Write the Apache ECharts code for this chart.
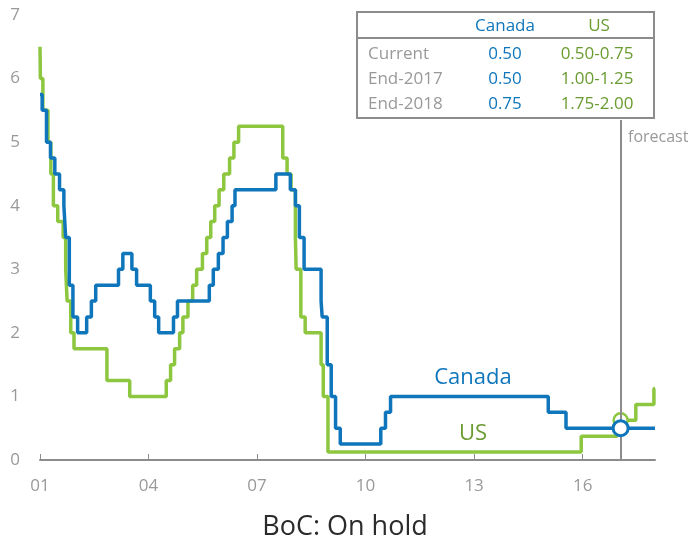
<!DOCTYPE html>
<html>
<head>
<meta charset="utf-8">
<script src="https://cdn.jsdelivr.net/npm/echarts@6/dist/echarts.min.js"></script>
<style>
  html, body { margin: 0; padding: 0; background: #fff; }
  #chart { width: 694px; height: 549px; }
</style>
</head>
<body>
<div id="chart"></div>
<script>
// policy rates, dates as decimal years
const canDates = [2001.0, 2001.06, 2001.18, 2001.29, 2001.41, 2001.54, 2001.66, 2001.71, 2001.81, 2001.91,
  2002.04, 2002.29, 2002.42, 2002.54, 2003.17, 2003.29, 2003.54, 2003.67, 2004.05, 2004.17,
  2004.28, 2004.69, 2004.80, 2005.68, 2005.79, 2005.93, 2006.06, 2006.18, 2006.31, 2006.39,
  2007.52, 2007.92, 2008.06, 2008.17, 2008.30, 2008.77, 2008.80, 2008.94, 2009.05, 2009.17,
  2009.30, 2010.42, 2010.55, 2010.69, 2015.05, 2015.54, 2018.0];
const canRates = [5.75, 5.50, 5.00, 4.75, 4.50, 4.25, 4.00, 3.50, 2.75, 2.25,
  2.00, 2.25, 2.50, 2.75, 3.00, 3.25, 3.00, 2.75, 2.50, 2.25,
  2.00, 2.25, 2.50, 2.75, 3.00, 3.25, 3.50, 3.75, 4.00, 4.25,
  4.50, 4.25, 4.00, 3.50, 3.00, 2.50, 2.25, 1.50, 1.00, 0.50,
  0.25, 0.50, 0.75, 1.00, 0.75, 0.50, 0.50];

const usDates = [2001.0, 2001.01, 2001.08, 2001.22, 2001.30, 2001.37, 2001.49, 2001.64, 2001.71, 2001.75,
  2001.85, 2001.94, 2002.85, 2003.48, 2004.49, 2004.61, 2004.72, 2004.86, 2004.95, 2005.09,
  2005.22, 2005.33, 2005.49, 2005.61, 2005.72, 2005.83, 2005.95, 2006.08, 2006.24, 2006.36,
  2006.49, 2007.71, 2007.83, 2007.94, 2008.06, 2008.08, 2008.21, 2008.33, 2008.77, 2008.83,
  2008.96, 2015.96, 2016.95, 2017.47, 2017.97, 2018.0];
const usRates = [6.50, 6.00, 5.50, 5.00, 4.50, 4.00, 3.75, 3.50, 3.00, 2.50,
  2.00, 1.75, 1.25, 1.00, 1.25, 1.50, 1.75, 2.00, 2.25, 2.50,
  2.75, 3.00, 3.25, 3.50, 3.75, 4.00, 4.25, 4.50, 4.75, 5.00,
  5.25, 4.75, 4.50, 4.25, 3.50, 3.00, 2.25, 2.00, 1.50, 1.00,
  0.125, 0.375, 0.625, 0.875, 1.125, 1.125];

const currentDate = 2017.05;
const currentCan = 0.50;
const currentUs = 0.625;
const forecastTop = 5.35;

// forecast table
const tableHeads = ['Canada', 'US'];
const tableRows = ['Current', 'End-2017', 'End-2018'];
const tableCan = ['0.50', '0.50', '0.75'];
const tableUs = ['0.50-0.75', '1.00-1.25', '1.75-2.00'];

const BLUE = '#0f76bc';
const GREEN = '#8dc63f';
const GREEN_TXT = '#6a9c31';
const GREY = '#999';
const FONT = 'Open Sans';

const zip = (xs, ys) => xs.map((x, i) => [x, ys[i]]);

const chart = echarts.init(document.getElementById('chart'));

const tableGraphics = [
  { type: 'rect', shape: { x: 357, y: 12, width: 297, height: 106 },
    style: { fill: '#fff', stroke: '#8c8c8c', lineWidth: 2 } },
  { type: 'line', shape: { x1: 357, y1: 38, x2: 654, y2: 38 },
    style: { stroke: '#8c8c8c', lineWidth: 2 } },
  { type: 'text', x: 505, y: 26, style: { text: tableHeads[0], fill: BLUE, font: '17px ' + FONT, align: 'center', verticalAlign: 'middle' } },
  { type: 'text', x: 599, y: 26, style: { text: tableHeads[1], fill: GREEN_TXT, font: '17px ' + FONT, align: 'center', verticalAlign: 'middle' } }
];
const rowY = [54, 79, 104];
tableRows.forEach((r, i) => {
  tableGraphics.push({ type: 'text', x: 368, y: rowY[i], style: { text: r, fill: GREY, font: '17px ' + FONT, align: 'left', verticalAlign: 'middle' } });
  tableGraphics.push({ type: 'text', x: 505, y: rowY[i], style: { text: tableCan[i], fill: BLUE, font: '17px ' + FONT, align: 'center', verticalAlign: 'middle' } });
  tableGraphics.push({ type: 'text', x: 597, y: rowY[i], style: { text: tableUs[i], fill: GREEN_TXT, font: '17px ' + FONT, align: 'center', verticalAlign: 'middle' } });
});

const option = {
  animation: false,
  backgroundColor: '#fff',
  textStyle: { fontFamily: FONT },
  grid: { left: 40, right: 39, top: 15, bottom: 89, containLabel: false },
  xAxis: {
    type: 'value',
    min: 2001,
    max: 2018,
    interval: 3,
    splitLine: { show: false },
    axisLine: { lineStyle: { color: '#8c8c8c', width: 2 } },
    axisTick: { inside: true, length: 6, lineStyle: { color: '#8c8c8c', width: 1 } },
    axisLabel: {
      color: GREY, fontSize: 17, margin: 18, fontFamily: FONT,
      showMaxLabel: false,
      formatter: v => (v === 2018 ? '' : String(v).slice(2))
    }
  },
  yAxis: {
    type: 'value',
    min: 0,
    max: 7,
    interval: 1,
    splitLine: { show: false },
    axisLine: { show: false },
    axisTick: { show: false },
    axisLabel: { color: GREY, fontSize: 17, margin: 20, fontFamily: FONT }
  },
  series: [
    {
      name: 'US',
      type: 'line',
      step: 'end',
      showSymbol: false,
      z: 2,
      lineStyle: { color: GREEN, width: 3.5 },
      data: zip(usDates, usRates),
      markLine: {
        silent: true,
        symbol: 'none',
        lineStyle: { color: '#8c8c8c', width: 2, type: 'solid' },
        label: { show: false },
        data: [[{ coord: [currentDate, 0] }, { coord: [currentDate, forecastTop] }]]
      }
    },
    {
      name: 'Canada',
      type: 'line',
      step: 'end',
      showSymbol: false,
      z: 3,
      lineStyle: { color: BLUE, width: 3.5 },
      data: zip(canDates, canRates)
    },
    {
      name: 'US now',
      type: 'scatter',
      z: 4,
      symbolSize: 14,
      itemStyle: { color: '#fff', borderColor: GREEN, borderWidth: 2.5, opacity: 1 },
      data: [[currentDate, currentUs]]
    },
    {
      name: 'Canada now',
      type: 'scatter',
      z: 5,
      symbolSize: 15,
      itemStyle: { color: '#fff', borderColor: BLUE, borderWidth: 3, opacity: 1 },
      data: [[currentDate, currentCan]]
    }
  ],
  graphic: [
    { type: 'text', x: 628, y: 137, style: { text: 'forecast', fill: GREY, font: '16px ' + FONT, align: 'left', verticalAlign: 'middle' } },
    { type: 'text', x: 473, y: 378, style: { text: 'Canada', fill: BLUE, font: '22px ' + FONT, align: 'center', verticalAlign: 'middle' } },
    { type: 'text', x: 473, y: 434, style: { text: 'US', fill: GREEN_TXT, font: '22px ' + FONT, align: 'center', verticalAlign: 'middle' } },
    { type: 'text', x: 345, y: 527, style: { text: 'BoC: On hold', fill: '#2b2b2b', font: '27px ' + FONT, align: 'center', verticalAlign: 'middle' } }
  ].concat(tableGraphics)
};

chart.setOption(option);
</script>
</body>
</html>
